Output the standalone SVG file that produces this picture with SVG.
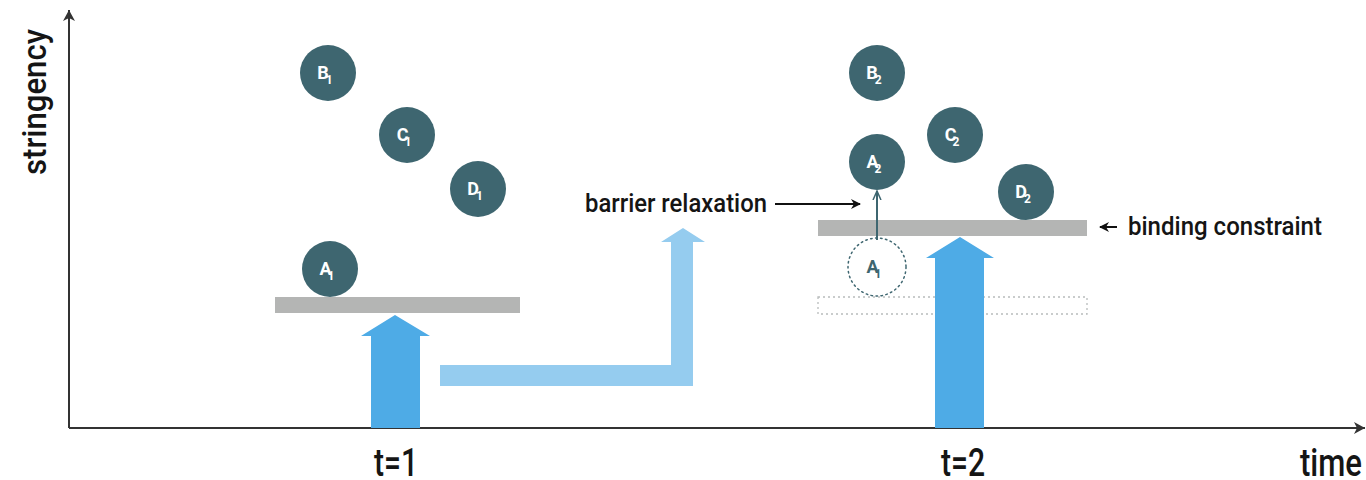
<svg xmlns="http://www.w3.org/2000/svg" width="1366" height="480" viewBox="0 0 1366 480">
<style>
.node{fill:#3e6670}
.lbl{fill:#fff;font-family:Roboto,"Liberation Sans",sans-serif;font-weight:bold;font-size:18px}
.sub{font-size:12px}
.txt{fill:#151515;font-family:Roboto,"Liberation Sans",sans-serif;font-weight:500;font-size:25px}
.big{fill:#151515;font-family:Roboto,"Liberation Sans",sans-serif;font-weight:500;font-size:38px}
.ylab{fill:#151515;font-family:Roboto,"Liberation Sans",sans-serif;font-weight:500;font-size:33px}
.bar{fill:#b4b5b4}
.blue{fill:#4eabe6}
.lblue{fill:#95ccef}
</style>
<defs>
<marker id="ah" markerWidth="10" markerHeight="10" refX="9" refY="5" orient="auto" markerUnits="userSpaceOnUse">
<path d="M0,0 L10,5 L0,10 L3,5 Z" fill="#111"/>
</marker>
<marker id="ahT" markerWidth="10" markerHeight="10" refX="9" refY="5" orient="auto" markerUnits="userSpaceOnUse">
<path d="M0,1 L9,5 L0,9" fill="none" stroke="#3e6670" stroke-width="1.5"/>
</marker>
<marker id="axh" markerWidth="12" markerHeight="12" refX="11" refY="6" orient="auto" markerUnits="userSpaceOnUse">
<path d="M0,0 L11,6 L0,12 L3,6 Z" fill="#333"/>
</marker>
</defs>
<g id="axes">
<line x1="69" y1="428" x2="69" y2="10" stroke="#333" stroke-width="2" marker-end="url(#axh)"/>
<line x1="69" y1="428" x2="1365" y2="428" stroke="#333" stroke-width="2" marker-end="url(#axh)"/>
<text class="ylab" transform="translate(46,102) rotate(-90)" text-anchor="middle" textLength="146" lengthAdjust="spacingAndGlyphs">stringency</text>
<text class="big" x="1331" y="476" text-anchor="middle" textLength="62" lengthAdjust="spacingAndGlyphs">time</text>
<text class="big" x="396" y="476" text-anchor="middle" textLength="44" lengthAdjust="spacingAndGlyphs">t=1</text>
<text class="big" x="963" y="476" text-anchor="middle" textLength="44" lengthAdjust="spacingAndGlyphs">t=2</text>
</g>
<g id="bars">
<rect class="bar" x="275" y="297" width="245" height="16"/>
<rect class="bar" x="818" y="220" width="269" height="16"/>
<rect x="818" y="297" width="269" height="17" fill="none" stroke="#b8bcbc" stroke-width="1.3" stroke-dasharray="2,3"/>
</g>
<g id="arrows-blue">
<polygon class="blue" points="395,315 430,336 420,336 420,428 371,428 371,336 361,336"/>
<polygon class="blue" points="960,237 994,258 984,258 984,428 935,428 935,258 926,258"/>
<polygon class="lblue" points="440,365 671,365 671,242 661,242 683,228 705,242 693,242 693,386 440,386"/>
</g>
<g id="node-B1"><circle class="node" cx="328" cy="73" r="28"/><text class="lbl" x="325" y="79" text-anchor="middle">B<tspan class="sub" dx="-3" dy="5">1</tspan></text></g>
<g id="node-C1"><circle class="node" cx="407" cy="135" r="28"/><text class="lbl" x="404" y="141" text-anchor="middle">C<tspan class="sub" dx="-4" dy="5">1</tspan></text></g>
<g id="node-D1"><circle class="node" cx="478" cy="189" r="28"/><text class="lbl" x="475" y="195" text-anchor="middle">D<tspan class="sub" dx="-3" dy="5">1</tspan></text></g>
<g id="node-A1"><circle class="node" cx="330" cy="269" r="28"/><text class="lbl" x="327" y="275" text-anchor="middle">A<tspan class="sub" dx="-4" dy="5">1</tspan></text></g>
<g id="node-B2"><circle class="node" cx="877" cy="73" r="28"/><text class="lbl" x="874" y="79" text-anchor="middle">B<tspan class="sub" dx="-3" dy="5">2</tspan></text></g>
<g id="node-C2"><circle class="node" cx="955" cy="135" r="28"/><text class="lbl" x="952" y="141" text-anchor="middle">C<tspan class="sub" dx="-4" dy="5">2</tspan></text></g>
<g id="node-A2"><circle class="node" cx="877" cy="162" r="28"/><text class="lbl" x="874" y="168" text-anchor="middle">A<tspan class="sub" dx="-4" dy="5">2</tspan></text></g>
<g id="node-D2"><circle class="node" cx="1026" cy="192" r="28"/><text class="lbl" x="1023" y="198" text-anchor="middle">D<tspan class="sub" dx="-3" dy="5">2</tspan></text></g>
<g id="node-A1-old"><circle cx="877" cy="267" r="29" fill="none" stroke="#3e6670" stroke-width="1.5" stroke-dasharray="1.5,3.5" stroke-linecap="round"/><text class="lbl" x="874" y="273" text-anchor="middle" style="fill:#3e6670">A<tspan class="sub" dx="-4" dy="5">1</tspan></text></g>
<g id="connectors">
<line x1="877" y1="240" x2="877" y2="191" stroke="#3e6670" stroke-width="2" marker-end="url(#ahT)"/>
<line x1="775" y1="204" x2="860" y2="204" stroke="#111" stroke-width="2" marker-end="url(#ah)"/>
<line x1="1117" y1="227" x2="1100" y2="227" stroke="#111" stroke-width="2" marker-end="url(#ah)"/>
</g>
<g id="labels">
<text class="txt" x="585" y="212" textLength="182" lengthAdjust="spacingAndGlyphs">barrier relaxation</text>
<text class="txt" x="1128" y="235" textLength="194" lengthAdjust="spacingAndGlyphs">binding constraint</text>
</g>
</svg>
